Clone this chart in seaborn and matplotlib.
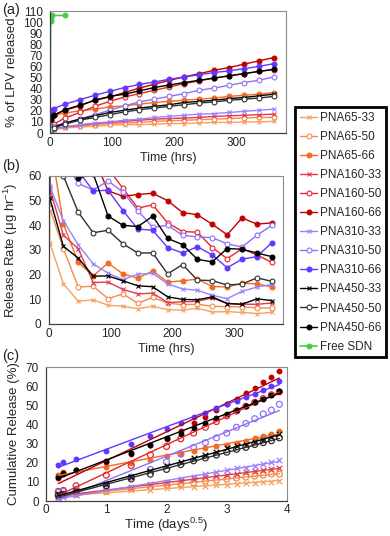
import numpy as np
import pandas as pd
import matplotlib
matplotlib.use("Agg")
import matplotlib.pyplot as plt
from matplotlib.ticker import MultipleLocator
import seaborn as sns

# =====================
# DATA
# =====================

hours = [1, 2, 6, 24, 48, 72, 96, 120, 144, 168, 192, 216, 240, 264, 288, 312, 336, 360]
rate_hours = [1, 2, 24, 48, 72, 96, 120, 144, 168, 192, 216, 240, 264, 288, 312, 336, 360]

free_hours = [0, 1, 2, 4, 24]
free_sdn = [0, 101, 104, 106, 106]

names = ["PNA65-33", "PNA65-50", "PNA65-66",
         "PNA160-33", "PNA160-50", "PNA160-66",
         "PNA310-33", "PNA310-50", "PNA310-66",
         "PNA450-33", "PNA450-50", "PNA450-66"]

# cumulative release (%)
cum_65_33 = [2, 2.5, 3, 4.5, 5.5, 6, 7, 7.5, 7.5, 8, 8.5, 8.5, 9, 9.5, 9.5, 10, 10, 10.5]
cum_65_50 = [2.5, 3, 3.5, 5, 6.5, 7.5, 8.5, 9, 9.5, 10.5, 11, 11.5, 12, 12.5, 13, 13.5, 14, 14]
cum_65_66 = [13.5, 15, 16, 18, 20, 21.5, 23.5, 24.5, 26, 27.5, 28.5, 29.5, 30.5, 31.5, 33, 34, 35, 36.5]
cum_160_33 = [2.5, 3, 4, 5.5, 7, 8.5, 9.5, 10.5, 11.5, 12.5, 13, 13.5, 14, 15, 15.5, 16, 16.5, 17]
cum_160_50 = [5, 5.5, 8, 13.5, 18.5, 24, 28.5, 32.5, 35.5, 38.5, 41.5, 44.5, 47, 49.5, 51.5, 53.5, 55.5, 57]
cum_160_66 = [12, 14, 16, 20.5, 24.5, 29.5, 32.5, 36.5, 40.5, 44, 47.5, 50.5, 53.5, 56.5, 59, 62, 65, 68]
cum_310_33 = [1.5, 2, 3, 5.5, 7.5, 9, 10, 11.5, 12.5, 14, 15, 16, 17, 17.5, 18.5, 19.5, 20.5, 21.5]
cum_310_50 = [4.5, 5, 6, 9, 12.5, 16.5, 20.5, 24.5, 28, 30.5, 33, 35.5, 38.5, 40.5, 43, 45.5, 47.5, 50.5]
cum_310_66 = [19, 20.5, 22, 26, 30, 34, 37.5, 41, 43.8, 46, 48.5, 50.5, 52.5, 54.5, 56, 58, 60, 62.5]
cum_450_33 = [3.5, 4, 5, 9, 12.5, 15.5, 18.5, 20.5, 22.5, 24, 25.5, 27.5, 28.5, 29.5, 31, 32, 33.5, 35]
cum_450_50 = [3, 3.5, 4.5, 8, 11.5, 14, 16.5, 19, 21, 22.5, 24, 25.5, 27, 28, 29.5, 30.5, 31.5, 33]
cum_450_66 = [12.5, 14.5, 16, 21, 25, 29.5, 33, 35, 38, 41, 43.3, 45.5, 47.5, 49.5, 51.5, 53.5, 55.5, 57.5]

# release rate (ug/hr)
rate_65_33 = [90, 33, 16.3, 9.2, 9.8, 7.6, 7.2, 6.2, 7.2, 5.8, 5.6, 6.4, 4.9, 5, 4.7, 4.2, 4.7]
rate_65_50 = [110, 47, 30.5, 15, 15.3, 10.3, 12.2, 8.4, 10.8, 8.5, 7.8, 8, 7.2, 7, 7, 6.5, 6.5]
rate_65_66 = [130, 75, 40.5, 25, 19.5, 24.7, 20.3, 18.6, 21.5, 17, 17.5, 18.2, 15.2, 15, 16.5, 16.3, 15]
rate_160_33 = [120, 55, 36, 30.5, 16.8, 17, 14, 12.2, 12.5, 8.7, 9, 9.2, 10.6, 8.3, 8, 8, 8.5]
rate_160_50 = [200, 110, 85, 72, 65, 63, 55, 47, 48.3, 41, 37.5, 37.2, 31, 26.5, 30.5, 28, 25]
rate_160_66 = [220, 130, 95, 80, 68, 54, 51.8, 52.5, 53, 50, 45.2, 44.3, 40.4, 36.2, 43, 40.5, 41]
rate_310_33 = [100, 56, 41.8, 32.1, 24.4, 20.6, 18, 20.2, 20.5, 16.3, 14.2, 13.7, 11.6, 10.3, 13.2, 15, 16]
rate_310_50 = [180, 90, 66, 57, 54.3, 58, 53.5, 46, 39.2, 40, 36, 35.3, 35, 32.5, 31.2, 36, 40]
rate_310_66 = [200, 100, 70, 62, 54, 54.2, 46, 38.5, 38, 31, 28.8, 31.3, 28, 22.8, 26.3, 27.3, 33]
rate_450_33 = [110, 51, 31.5, 26.7, 19.4, 19.5, 17.5, 15.5, 15.1, 11, 10, 9.8, 11, 8.3, 8, 10.2, 9.5]
rate_450_50 = [160, 80, 60, 45.3, 37, 38, 32.5, 28.8, 28.8, 20.3, 24.1, 17.8, 17.6, 15.8, 16.2, 18.7, 17.3]
rate_450_66 = [190, 95, 70, 59, 61, 43.8, 40, 39.5, 43.7, 34.7, 32.2, 26.2, 25.2, 30.6, 30.3, 28.8, 27.3]

cum_all = [cum_65_33, cum_65_50, cum_65_66, cum_160_33, cum_160_50, cum_160_66,
           cum_310_33, cum_310_50, cum_310_66, cum_450_33, cum_450_50, cum_450_66]
rate_all = [rate_65_33, rate_65_50, rate_65_66, rate_160_33, rate_160_50, rate_160_66,
            rate_310_33, rate_310_50, rate_310_66, rate_450_33, rate_450_50, rate_450_66]

# =====================
# STYLE
# =====================

colors = ["#F7A060", "#F58A4B", "#F26B22",
          "#E23A48", "#E8262B", "#C00000",
          "#9B80FF", "#9070F5", "#6236FF",
          "#000000", "#303030", "#000000"]
markers = ["x", "o", "o"] * 4
filled = [False, False, True] * 4
free_color = "#44CC44"

sns.set_style("white")
plt.rcParams["font.family"] = ["Liberation Sans", "DejaVu Sans"]
plt.rcParams["mathtext.fontset"] = "custom"
plt.rcParams["mathtext.rm"] = "Liberation Sans"
plt.rcParams["font.size"] = 8.5

fig = plt.figure(figsize=(3.9, 5.36), dpi=100)
ax1 = fig.add_axes([50 / 390, 1 - 133 / 536, 236 / 390, 122 / 536])
ax2 = fig.add_axes([48.5 / 390, 1 - 324 / 536, 234.5 / 390, 148 / 536])
ax3 = fig.add_axes([46 / 390, 1 - 501 / 536, 241 / 390, 134 / 536])


def style_axes(ax):
    for side in ["top", "right"]:
        ax.spines[side].set_color("#8c8c8c")
        ax.spines[side].set_linewidth(0.8)
    for side in ["left", "bottom"]:
        ax.spines[side].set_color("#404040")
        ax.spines[side].set_linewidth(0.9)
    ax.tick_params(axis="x", which="both", direction="in", length=3,
                   color="#404040", labelsize=8.5, pad=3)
    ax.tick_params(axis="y", which="both", direction="out", length=3,
                   color="#404040", labelsize=8.5, pad=2)


# =====================
# (a) CUMULATIVE RELEASE
# =====================

for name, vals, c, m, f in zip(names, cum_all, colors, markers, filled):
    sns.lineplot(x=hours, y=vals, ax=ax1, color=c, marker=m, markersize=3.5,
                 markerfacecolor=c if f else "white", markeredgecolor=c,
                 markeredgewidth=0.8, linewidth=1, label=name)

sns.lineplot(x=free_hours, y=free_sdn, ax=ax1, color=free_color, marker="o",
             markersize=3.5, markerfacecolor=free_color,
             markeredgecolor=free_color, linewidth=1.2, label="Free SDN")

handles, labels = ax1.get_legend_handles_labels()
ax1.get_legend().remove()

ax1.set_xlim(0, 380)
ax1.set_ylim(0, 110)
ax1.xaxis.set_major_locator(MultipleLocator(100))
ax1.xaxis.set_minor_locator(MultipleLocator(25))
ax1.yaxis.set_major_locator(MultipleLocator(10))
ax1.set_xlabel("Time (hrs)", fontsize=9, labelpad=2)
ax1.set_ylabel("% of LPV released", fontsize=9.5, labelpad=4)
style_axes(ax1)

# =====================
# (b) RELEASE RATE
# =====================

for name, vals, c, m, f in zip(names, rate_all, colors, markers, filled):
    sns.lineplot(x=rate_hours, y=vals, ax=ax2, color=c, marker=m, markersize=3.5,
                 markerfacecolor=c if f else "white", markeredgecolor=c,
                 markeredgewidth=0.8, linewidth=1, legend=False)

ax2.set_xlim(0, 378)
ax2.set_ylim(0, 60)
ax2.xaxis.set_major_locator(MultipleLocator(100))
ax2.xaxis.set_minor_locator(MultipleLocator(25))
ax2.yaxis.set_major_locator(MultipleLocator(10))
ax2.set_xlabel("Time (hrs)", fontsize=9, labelpad=2)
ax2.set_ylabel("Release Rate (μg hr$^{-1}$)", fontsize=9.5, labelpad=6)
style_axes(ax2)

# =====================
# (c) SQRT TIME FIT
# =====================

sqrt_days = np.sqrt(np.array(hours) / 24.0)

for name, vals, c, m, f in zip(names, cum_all, colors, markers, filled):
    if m == "x":
        skw = {"s": 16, "color": c, "linewidths": 0.9, "alpha": 1}
    elif f:
        skw = {"s": 18, "color": c, "linewidths": 0, "alpha": 1}
    else:
        skw = {"s": 18, "facecolors": "none", "edgecolors": c,
               "linewidths": 0.9, "alpha": 1}
    sns.regplot(x=sqrt_days, y=np.array(vals), ax=ax3, ci=None, color=c,
                marker=m, scatter_kws=skw, line_kws={"linewidth": 1})

ax3.set_xlim(0, 4)
ax3.set_ylim(0, 70)
ax3.xaxis.set_major_locator(MultipleLocator(1))
ax3.xaxis.set_minor_locator(MultipleLocator(0.5))
ax3.yaxis.set_major_locator(MultipleLocator(10))
ax3.set_xlabel("Time (days$^{0.5}$)", fontsize=9.5, labelpad=0)
ax3.set_ylabel("Cumulative Release (%)", fontsize=9.5, labelpad=4)
style_axes(ax3)
ax3.tick_params(axis="x", pad=2)

# =====================
# LABELS + LEGEND
# =====================

fig.text(2 / 390, 1 - 10 / 536, "(a)", fontsize=10.5, va="center")
fig.text(2 / 390, 1 - 166 / 536, "(b)", fontsize=10.5, va="center")
fig.text(2 / 390, 1 - 356 / 536, "(c)", fontsize=10.5, va="center")

leg = fig.legend(handles, labels, loc="upper left",
                 bbox_to_anchor=(295 / 390, 1 - 107 / 536),
                 frameon=True, fancybox=False, framealpha=1,
                 edgecolor="black", fontsize=8.5, handlelength=1.5,
                 handletextpad=0.2, labelspacing=0.6, borderpad=0.4,
                 borderaxespad=0)
leg.get_frame().set_linewidth(2)

plt.savefig("out.png", dpi=100)
